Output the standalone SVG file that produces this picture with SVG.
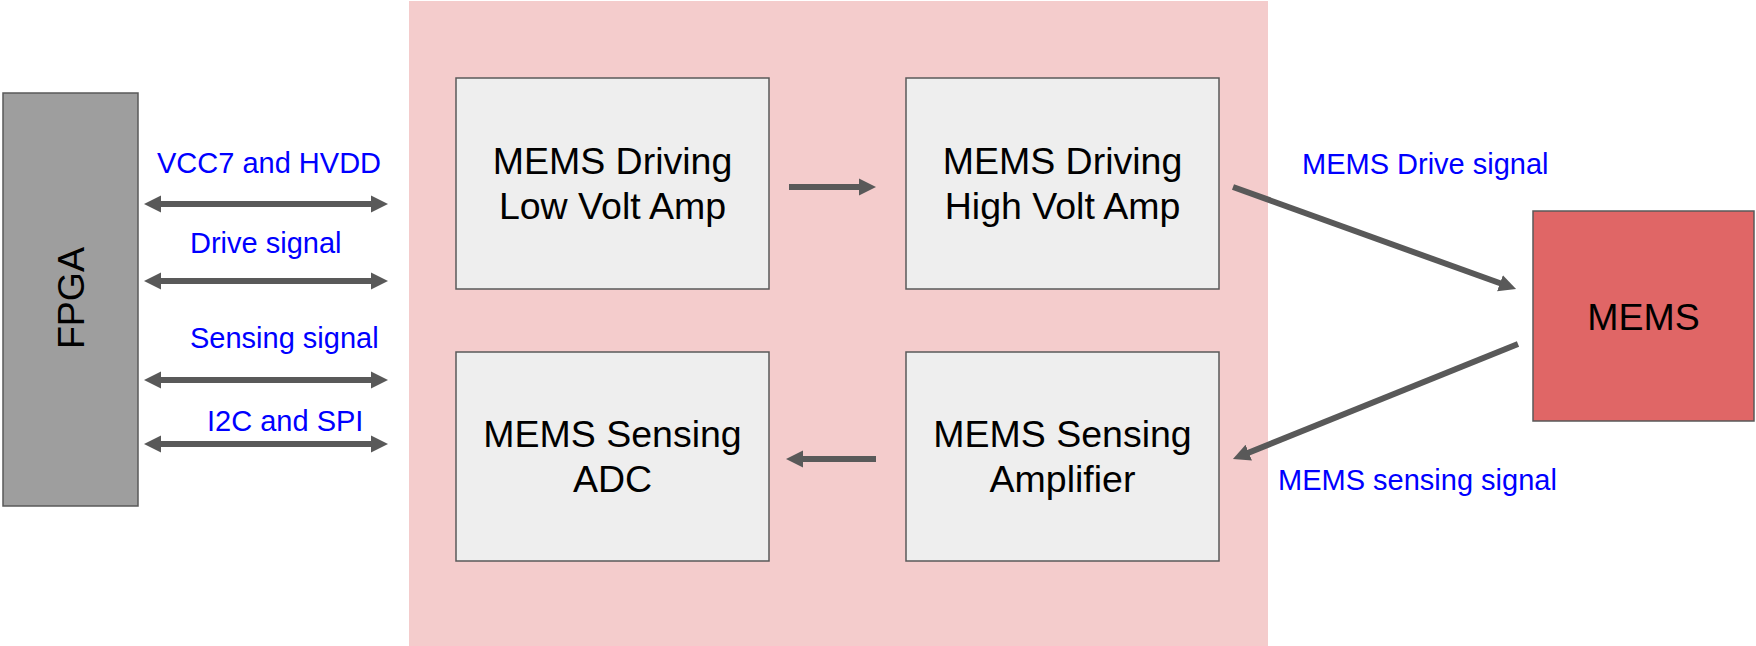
<svg xmlns="http://www.w3.org/2000/svg" width="1756" height="646" viewBox="0 0 1756 646">
<style>
.box{fill:#eeeeee;stroke:#595959;stroke-width:1.5}
.node-text{font-family:"Liberation Sans",Arial,sans-serif;font-size:37.5px;fill:#000000;text-anchor:middle}
.lbl{font-family:"Liberation Sans",Arial,sans-serif;font-size:29px;fill:#0000ff}
.conn{stroke:#595959;stroke-width:6;fill:none}
.arr{marker-end:url(#ah)}
.dbl{marker-start:url(#ah);marker-end:url(#ah)}
</style>
<defs>
<marker id="ah" viewBox="0 0 10 10" refX="1" refY="5" markerWidth="2.85" markerHeight="3" markerUnits="strokeWidth" orient="auto-start-reverse">
<path d="M0,0 L10,5 L0,10 z" fill="#595959"/>
</marker>
</defs>
<rect x="0" y="0" width="1756" height="646" fill="#ffffff"/>
<g id="chip-area">
<rect x="409" y="1" width="859" height="645" fill="#f4cccc"/>
</g>
<g id="fpga">
<rect x="3" y="93" width="135" height="413" fill="#9e9e9e" stroke="#595959" stroke-width="1.5"/>
<text class="node-text" transform="translate(83.5,298) rotate(-90)" x="0" y="0">FPGA</text>
</g>
<g id="low-volt-amp">
<rect class="box" x="456" y="78" width="313" height="211"/>
<text class="node-text" x="612.5" y="173.5">MEMS Driving</text>
<text class="node-text" x="612.5" y="218.5">Low Volt Amp</text>
</g>
<g id="high-volt-amp">
<rect class="box" x="906" y="78" width="313" height="211"/>
<text class="node-text" x="1062.5" y="173.5">MEMS Driving</text>
<text class="node-text" x="1062.5" y="218.5">High Volt Amp</text>
</g>
<g id="sensing-adc">
<rect class="box" x="456" y="352" width="313" height="209"/>
<text class="node-text" x="612.5" y="447">MEMS Sensing</text>
<text class="node-text" x="612.5" y="492">ADC</text>
</g>
<g id="sensing-amp">
<rect class="box" x="906" y="352" width="313" height="209"/>
<text class="node-text" x="1062.5" y="447">MEMS Sensing</text>
<text class="node-text" x="1062.5" y="492">Amplifier</text>
</g>
<g id="mems">
<rect x="1533" y="211" width="221" height="210" fill="#e06666" stroke="#595959" stroke-width="1.5"/>
<text class="node-text" x="1643.5" y="329.5">MEMS</text>
</g>
<g id="connectors">
<line class="conn dbl" x1="159.3" y1="204" x2="372.7" y2="204"/>
<line class="conn dbl" x1="159.3" y1="281" x2="372.7" y2="281"/>
<line class="conn dbl" x1="159.3" y1="380" x2="372.7" y2="380"/>
<line class="conn dbl" x1="159.3" y1="444" x2="372.7" y2="444"/>
<line class="conn arr" x1="789" y1="187" x2="860.7" y2="187"/>
<line class="conn arr" x1="876" y1="459" x2="801.3" y2="459"/>
<line class="conn arr" x1="1233" y1="187" x2="1501.6" y2="283.8"/>
<line class="conn arr" x1="1518" y1="344" x2="1247.2" y2="453.3"/>
</g>
<g id="labels">
<text class="lbl" x="157" y="173">VCC7 and HVDD</text>
<text class="lbl" x="190" y="253">Drive signal</text>
<text class="lbl" x="190" y="348">Sensing signal</text>
<text class="lbl" x="207" y="431">I2C and SPI</text>
<text class="lbl" x="1302" y="174">MEMS Drive signal</text>
<text class="lbl" x="1278" y="490">MEMS sensing signal</text>
</g>
</svg>
